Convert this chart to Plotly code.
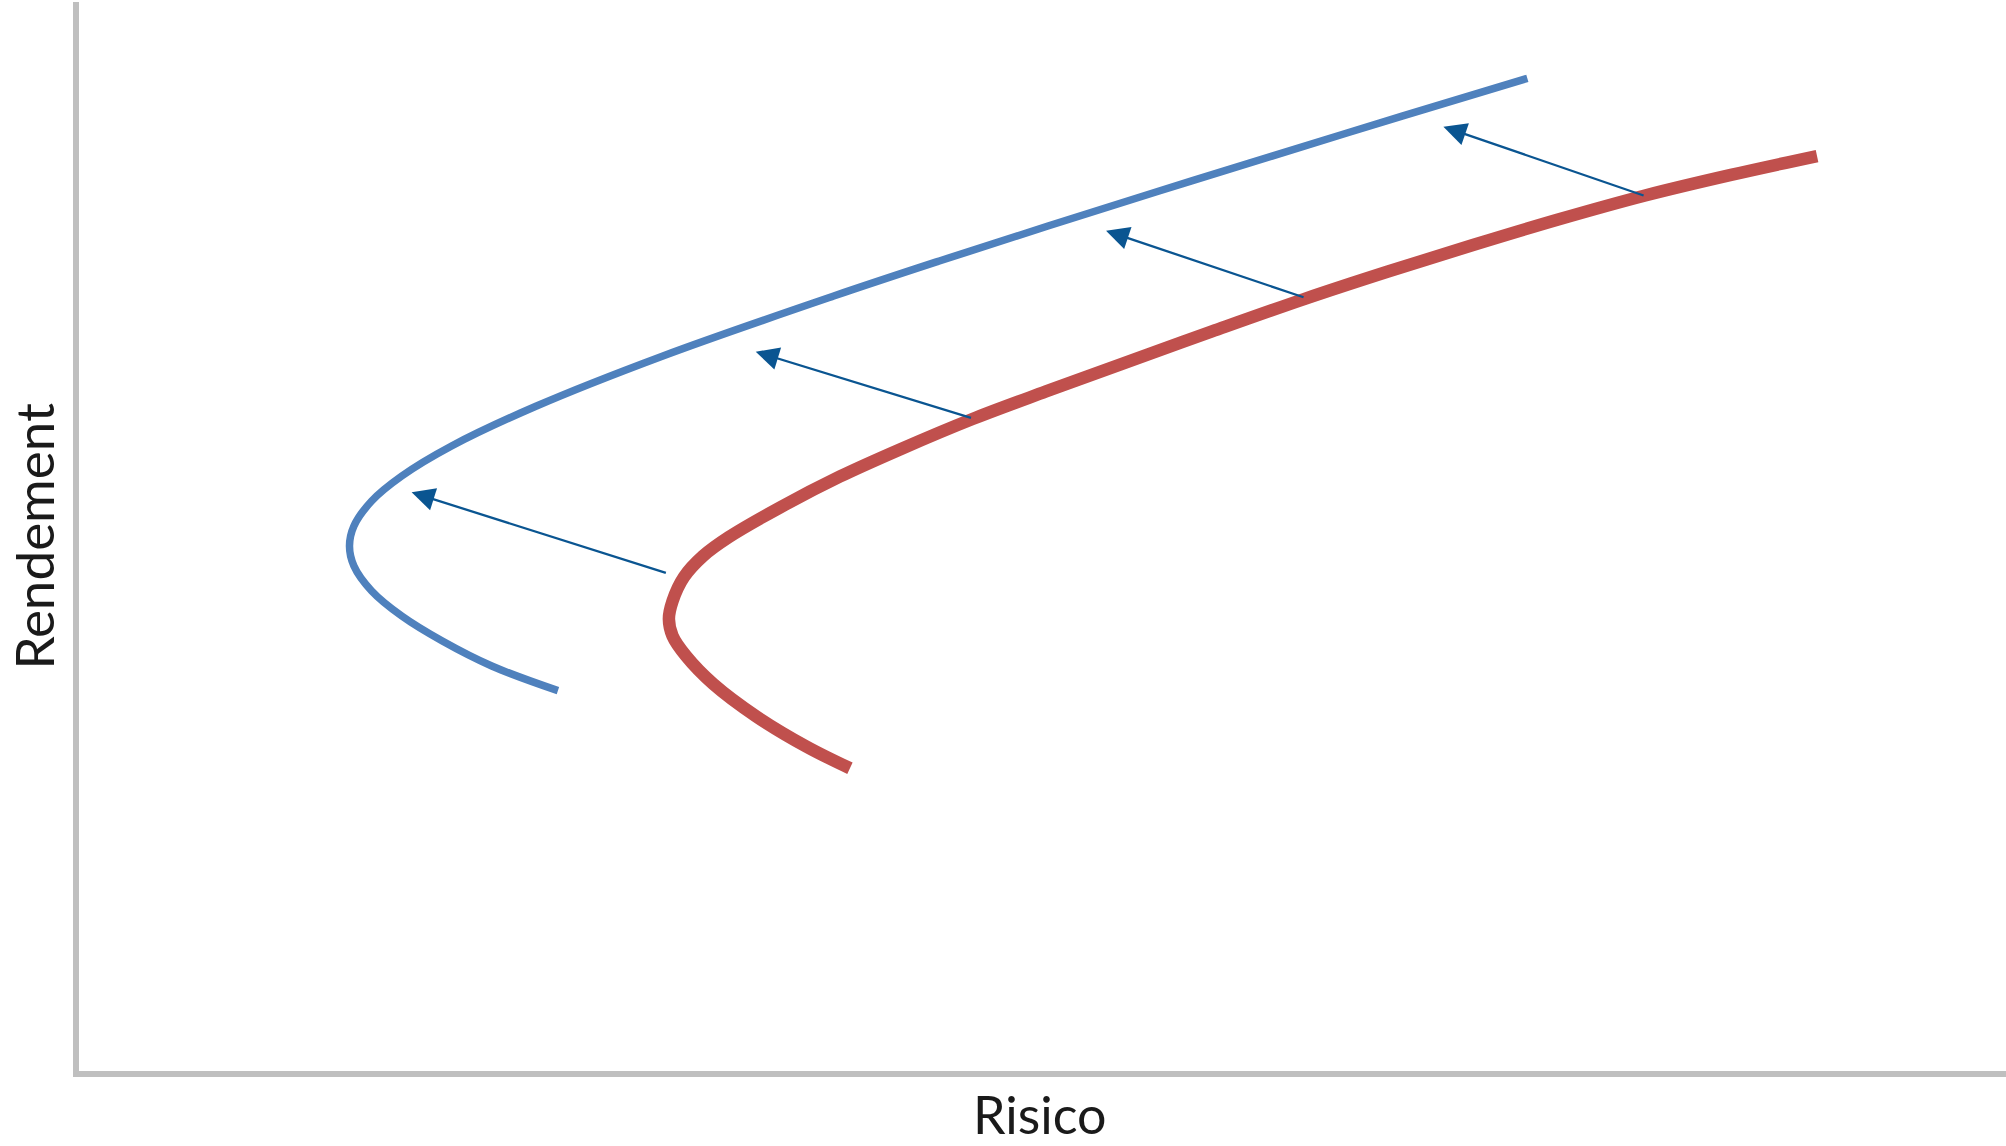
import plotly.graph_objects as go

# Efficient frontier after (blue) and before (red), in arbitrary units 0-100
blue_risk = [24.97, 21.54, 18.98, 16.88, 15.32, 14.40, 14.17, 14.40, 15.32, 16.88,
             19.46, 23.86, 30.41, 39.26, 44.73, 50.36, 56.12, 61.97, 68.75, 75.20]
blue_return = [35.76, 38.06, 40.39, 42.72, 45.06, 47.39, 49.25, 51.12, 53.45, 55.78,
               58.58, 62.31, 66.98, 72.57, 75.84, 79.10, 82.37, 85.63, 89.37, 92.88]

red_risk = [40.10, 37.86, 35.27, 33.02, 31.61, 30.91, 30.72, 30.91, 31.50, 32.49,
            33.83, 36.48, 39.59, 42.69, 46.45, 50.26, 54.09, 58.86, 63.63, 67.98,
            72.38, 76.84, 81.30, 85.75, 90.21]
red_return = [28.52, 30.53, 33.33, 36.38, 38.99, 40.86, 42.44, 44.12, 46.36, 48.32,
              50.09, 52.85, 55.74, 58.26, 61.10, 63.67, 66.18, 69.27, 72.29, 74.86,
              77.33, 79.73, 81.95, 83.87, 85.63]

# Shift arrows: tail (on red) -> head (towards blue)
arrow_tail_x = [30.64, 46.45, 63.68, 81.30]
arrow_tail_y = [46.71, 61.17, 72.41, 81.90]
arrow_head_x = [17.39, 35.22, 53.37, 70.85]
arrow_head_y = [54.26, 67.38, 78.67, 88.37]

x_title = "Risico"
y_title = "Rendement"

fig = go.Figure()
fig.add_trace(go.Scatter(x=blue_risk, y=blue_return, mode="lines",
                         line=dict(color="#4f81bd", width=7.5, shape="spline", smoothing=1.0),
                         hoverinfo="skip", showlegend=False))
fig.add_trace(go.Scatter(x=red_risk, y=red_return, mode="lines",
                         line=dict(color="#c0504d", width=12.5, shape="spline", smoothing=1.0),
                         hoverinfo="skip", showlegend=False))

annotations = []
for tx, ty, hx, hy in zip(arrow_tail_x, arrow_tail_y, arrow_head_x, arrow_head_y):
    annotations.append(dict(x=hx, y=hy, ax=tx, ay=ty, xref="x", yref="y",
                            axref="x", ayref="y", text="", showarrow=True,
                            arrowhead=2, arrowsize=2, arrowwidth=2.3,
                            arrowcolor="#0a5591", standoff=0, startstandoff=0))

annotations.append(dict(text=x_title, xref="paper", yref="paper", x=0.4986, y=-0.04,
                        xanchor="center", yanchor="middle", showarrow=False,
                        font=dict(family="Lato", size=52, color="#1a1a1a")))
annotations.append(dict(text=y_title, xref="paper", yref="paper", x=-0.0241, y=0.4995,
                        xanchor="center", yanchor="middle", showarrow=False, textangle=-90,
                        font=dict(family="Lato", size=53, color="#1a1a1a")))

fig.update_layout(
    width=2006, height=1146,
    margin=dict(l=79, r=0, t=2, b=75, pad=0),
    paper_bgcolor="white", plot_bgcolor="white",
    annotations=annotations,
    xaxis=dict(range=[0.155, 100], showline=True, linecolor="#bfbfbf", linewidth=6,
               showgrid=False, zeroline=False, showticklabels=False, ticks=""),
    yaxis=dict(range=[0.28, 100], showline=True, linecolor="#bfbfbf", linewidth=6,
               showgrid=False, zeroline=False, showticklabels=False, ticks=""),
)

fig.write_html("out.html", config={"displayModeBar": False},
               post_script="document.body.style.margin='0px';")
